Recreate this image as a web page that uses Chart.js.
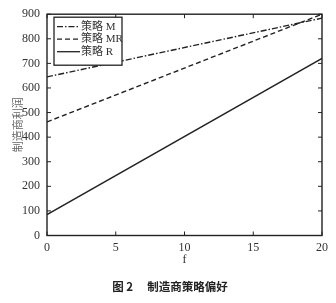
<!DOCTYPE html>
<html>
<head>
<meta charset="utf-8">
<script src="https://cdn.jsdelivr.net/npm/chart.js@4.4.0/dist/chart.umd.min.js"></script>
<style>
  html, body { margin: 0; padding: 0; background: #fff; }
  #wrap { position: relative; width: 336px; height: 303px; }
  #caption {
    position: absolute; left: 0; top: 278px; width: 340px; text-align: center;
    font: bold 11.5px "Noto Sans CJK SC", sans-serif; color: #222; white-space: pre;
  }
</style>
</head>
<body>
<div id="wrap">
  <canvas id="chart" width="336" height="303"></canvas>
  <div id="caption">图 2　 制造商策略偏好</div>
</div>
<script>
// 数据：f 取 0 与 20 两端（三条线都是直线）
const fValues = [0, 20];
const profitM = [645, 884];
const profitMR = [462, 900];
const profitR = [85, 720];
const seriesNames = ['策略 M', '策略 MR', '策略 R'];
const dashes = [[6, 2, 1.5, 2], [5, 3], []];
const xTicks = [0, 5, 10, 15, 20];
const yTicks = [0, 100, 200, 300, 400, 500, 600, 700, 800, 900];

const serif = '"Liberation Serif", "Noto Sans CJK SC", serif';
const ink = '#222';

function toPoints(ys) {
  return fValues.map((f, i) => ({ x: f, y: ys[i] }));
}

// 边框 + 朝内的刻度（四边）
const framePlugin = {
  id: 'frame',
  afterDatasetsDraw(chart) {
    const { ctx, chartArea: a, scales } = chart;
    ctx.save();
    ctx.strokeStyle = ink;
    ctx.lineWidth = 1.4;
    ctx.strokeRect(a.left, a.top, a.right - a.left, a.bottom - a.top);
    ctx.lineWidth = 1;
    ctx.beginPath();
    xTicks.forEach(v => {
      const x = scales.x.getPixelForValue(v);
      ctx.moveTo(x, a.bottom); ctx.lineTo(x, a.bottom - 4);
      ctx.moveTo(x, a.top); ctx.lineTo(x, a.top + 4);
    });
    yTicks.forEach(v => {
      const y = scales.y.getPixelForValue(v);
      ctx.moveTo(a.left, y); ctx.lineTo(a.left + 4, y);
      ctx.moveTo(a.right, y); ctx.lineTo(a.right - 4, y);
    });
    ctx.stroke();
    ctx.restore();
  }
};

// 图内左上角的图例框
const legendBox = {
  id: 'legendBox',
  afterDraw(chart) {
    const { ctx, chartArea: a } = chart;
    const x0 = a.left + 7, y0 = a.top + 3;
    ctx.save();
    ctx.fillStyle = '#fff';
    ctx.fillRect(x0, y0, 68, 48);
    ctx.strokeStyle = ink;
    ctx.lineWidth = 1.3;
    ctx.strokeRect(x0, y0, 68, 48);
    ctx.font = '11px ' + serif;
    ctx.textBaseline = 'middle';
    chart.data.datasets.forEach((ds, i) => {
      const y = y0 + 9.5 + i * 12.5;
      ctx.setLineDash(ds.borderDash || []);
      ctx.lineWidth = 1.3;
      ctx.beginPath();
      ctx.moveTo(x0 + 3, y); ctx.lineTo(x0 + 26, y);
      ctx.stroke();
      ctx.setLineDash([]);
      ctx.fillStyle = '#333';
      ctx.fillText(ds.label, x0 + 27, y);
    });
    ctx.restore();
  }
};

new Chart(document.getElementById('chart'), {
  type: 'line',
  data: {
    datasets: [profitM, profitMR, profitR].map((d, i) => ({
      label: seriesNames[i],
      data: toPoints(d),
      borderColor: ink,
      borderWidth: 1.4,
      borderDash: dashes[i],
      pointRadius: 0,
      tension: 0
    }))
  },
  options: {
    responsive: false,
    animation: false,
    layout: { padding: { left: 0, right: 14, top: 12, bottom: 0 } },
    plugins: { legend: { display: false }, tooltip: { enabled: false } },
    scales: {
      x: {
        type: 'linear', min: 0, max: 20,
        afterBuildTicks: s => { s.ticks = xTicks.map(v => ({ value: v })); },
        afterFit: s => { s.height = 67.5; },
        grid: { display: false, drawTicks: false },
        border: { display: false },
        ticks: { padding: 5, color: '#333', font: { family: serif, size: 12 }, maxRotation: 0 },
        title: { display: true, text: 'f', color: '#333', font: { family: serif, size: 12 }, padding: { top: 2, bottom: 36 } }
      },
      y: {
        type: 'linear', min: 0, max: 900,
        afterBuildTicks: s => { s.ticks = yTicks.map(v => ({ value: v })); },
        afterFit: s => { s.width = 47; },
        grid: { display: false, drawTicks: false },
        border: { display: false },
        ticks: { padding: 7, color: '#333', font: { family: serif, size: 12 } },
        title: { display: true, text: '制造商利润', color: '#666', font: { family: '"Noto Sans CJK SC", sans-serif', size: 11 }, padding: { top: 11, bottom: 0 } }
      }
    }
  },
  plugins: [framePlugin, legendBox]
});
</script>
</body>
</html>
